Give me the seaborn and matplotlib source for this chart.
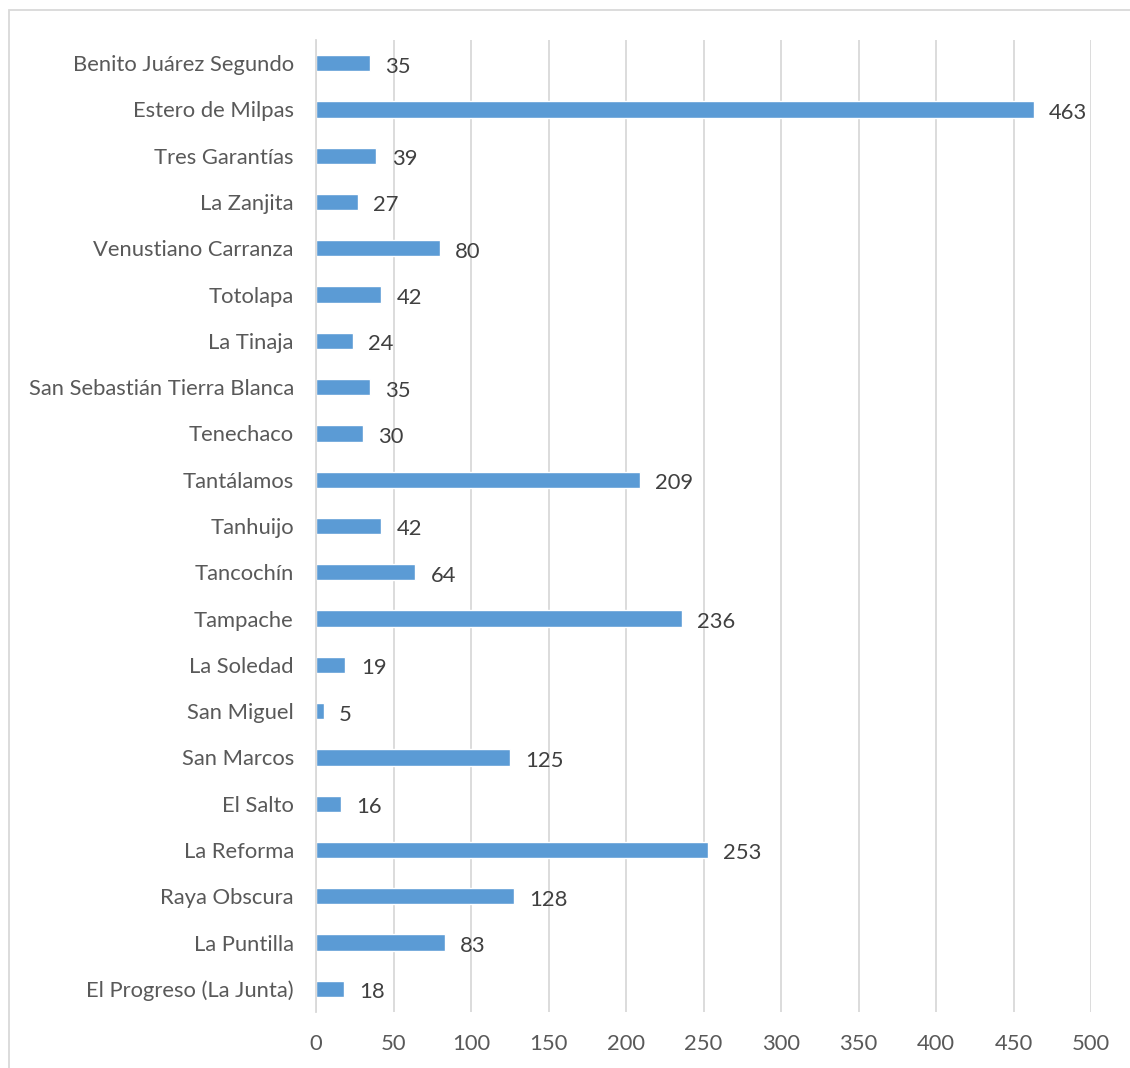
import matplotlib
matplotlib.use('Agg')
import matplotlib.pyplot as plt
from matplotlib.patches import Rectangle
import pandas as pd
import seaborn as sns

# localities, top to bottom as in the chart
localidades = ['Benito Juárez Segundo', 'Estero de Milpas', 'Tres Garantías', 'La Zanjita',
               'Venustiano Carranza', 'Totolapa', 'La Tinaja', 'San Sebastián Tierra Blanca',
               'Tenechaco', 'Tantálamos', 'Tanhuijo', 'Tancochín', 'Tampache', 'La Soledad',
               'San Miguel', 'San Marcos', 'El Salto', 'La Reforma', 'Raya Obscura',
               'La Puntilla', 'El Progreso (La Junta)']
valores = [35, 463, 39, 27, 80, 42, 24, 35, 30, 209, 42, 64, 236, 19, 5, 125, 16, 253, 128, 83, 18]
ticks_x = [0, 50, 100, 150, 200, 250, 300, 350, 400, 450, 500]

df = pd.DataFrame({'localidad': localidades, 'valor': valores})

sns.set_style('white')
plt.rcParams['font.family'] = ['Lato', 'DejaVu Sans']

fig = plt.figure(figsize=(11.3, 10.68), dpi=100)
ax = fig.add_axes([316 / 1130, 1 - 1012 / 1068, (1091 - 316) / 1130, (1012 - 40) / 1068])

sns.barplot(data=df, x='valor', y='localidad', orient='h', color='#5b9bd5',
            saturation=1, width=0.35, ax=ax)

ax.set_xlim(0, 500)
ax.set_xticks(ticks_x)
ax.set_xlabel('')
ax.set_ylabel('')
ax.xaxis.grid(True, color='#d9d9d9', linewidth=1.3)
ax.set_axisbelow(True)
for s in ['top', 'right', 'bottom']:
    ax.spines[s].set_visible(False)
ax.spines['left'].set_color('#d9d9d9')
ax.spines['left'].set_linewidth(1.3)
ax.tick_params(axis='both', length=0, labelsize=15.8, labelcolor='#595959')
ax.tick_params(axis='x', pad=16)
ax.tick_params(axis='y', pad=16)

etiquetas = ax.bar_label(ax.containers[0], padding=11, fontsize=15.8, color='#404040')
for t in etiquetas:
    t.xyann = (11, -2.5)

# light chart border
fig.add_artist(Rectangle((9 / 1130, -0.1), 1.2, 1 - 10 / 1068 + 0.1, transform=fig.transFigure,
                         fill=False, edgecolor='#d9d9d9', linewidth=1.3))

fig.savefig('out.png', dpi=100)
